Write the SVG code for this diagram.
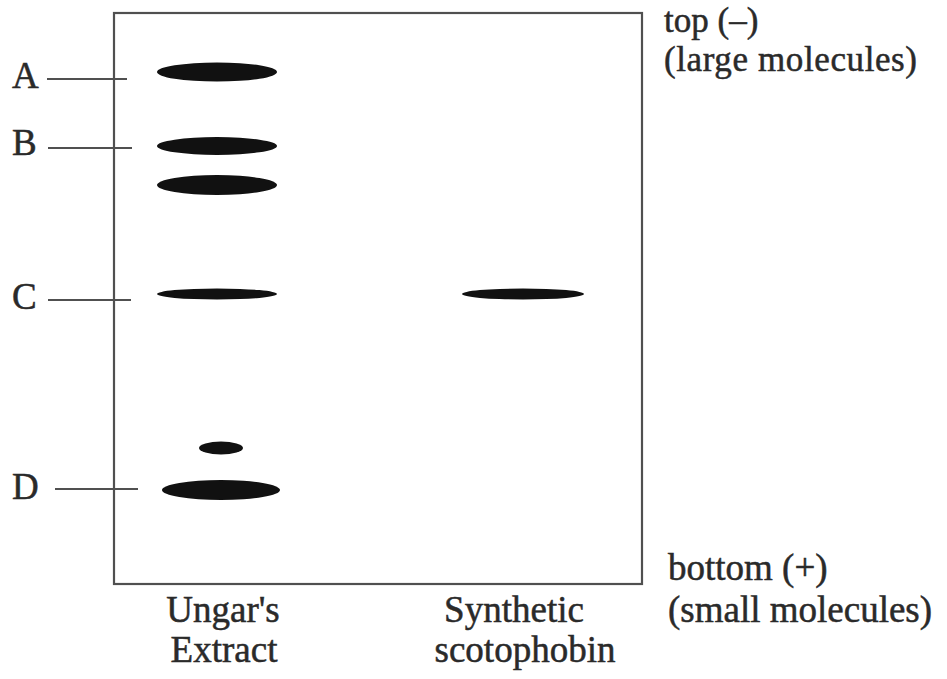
<svg xmlns="http://www.w3.org/2000/svg" width="947" height="679" viewBox="0 0 947 679">
<style>
.t{font-family:"Liberation Serif","Times New Roman",serif;font-size:37px;fill:#2a2a2a;stroke:#2a2a2a;stroke-width:0.5}
.s{font-size:35px}
.l{stroke:#505050;stroke-width:2.2;fill:none}
.band{fill:#111}
</style>
<rect width="947" height="679" fill="#fff"/>
<g id="gel">
<rect class="l" x="114" y="13" width="528" height="571"/>
</g>
<g id="connectors">
<line class="l" x1="47" y1="79" x2="127" y2="79"/>
<line class="l" x1="48" y1="148" x2="132" y2="148"/>
<line class="l" x1="48" y1="300" x2="131" y2="300"/>
<line class="l" x1="55" y1="489" x2="138" y2="489"/>
</g>
<g id="bands-extract">
<ellipse class="band" cx="217" cy="72" rx="60" ry="9.5"/>
<ellipse class="band" cx="217" cy="146" rx="60" ry="9"/>
<ellipse class="band" cx="217" cy="185" rx="60" ry="10"/>
<ellipse class="band" cx="217" cy="294" rx="60" ry="5.5"/>
<ellipse class="band" cx="221" cy="448" rx="22" ry="6.5"/>
<ellipse class="band" cx="221" cy="490" rx="59" ry="10"/>
</g>
<g id="bands-synthetic">
<ellipse class="band" cx="523" cy="294" rx="61" ry="5.5"/>
</g>
<g id="label-A"><text class="t" x="12" y="88">A</text></g>
<g id="label-B"><text class="t" x="12" y="155">B</text></g>
<g id="label-C"><text class="t" x="12" y="309">C</text></g>
<g id="label-D"><text class="t" x="12" y="499">D</text></g>
<g id="label-top">
<text class="t s" x="664" y="32">top (–)</text>
<text class="t s" x="664" y="71" textLength="253">(large molecules)</text>
</g>
<g id="label-bottom">
<text class="t" x="668" y="580">bottom (+)</text>
<text class="t" x="668" y="622">(small molecules)</text>
</g>
<g id="label-ungar">
<text class="t" x="223" y="622" text-anchor="middle">Ungar's</text>
<text class="t" x="224" y="662" text-anchor="middle">Extract</text>
</g>
<g id="label-synthetic">
<text class="t" x="514" y="622" text-anchor="middle">Synthetic</text>
<text class="t" x="525" y="662" text-anchor="middle">scotophobin</text>
</g>
</svg>
